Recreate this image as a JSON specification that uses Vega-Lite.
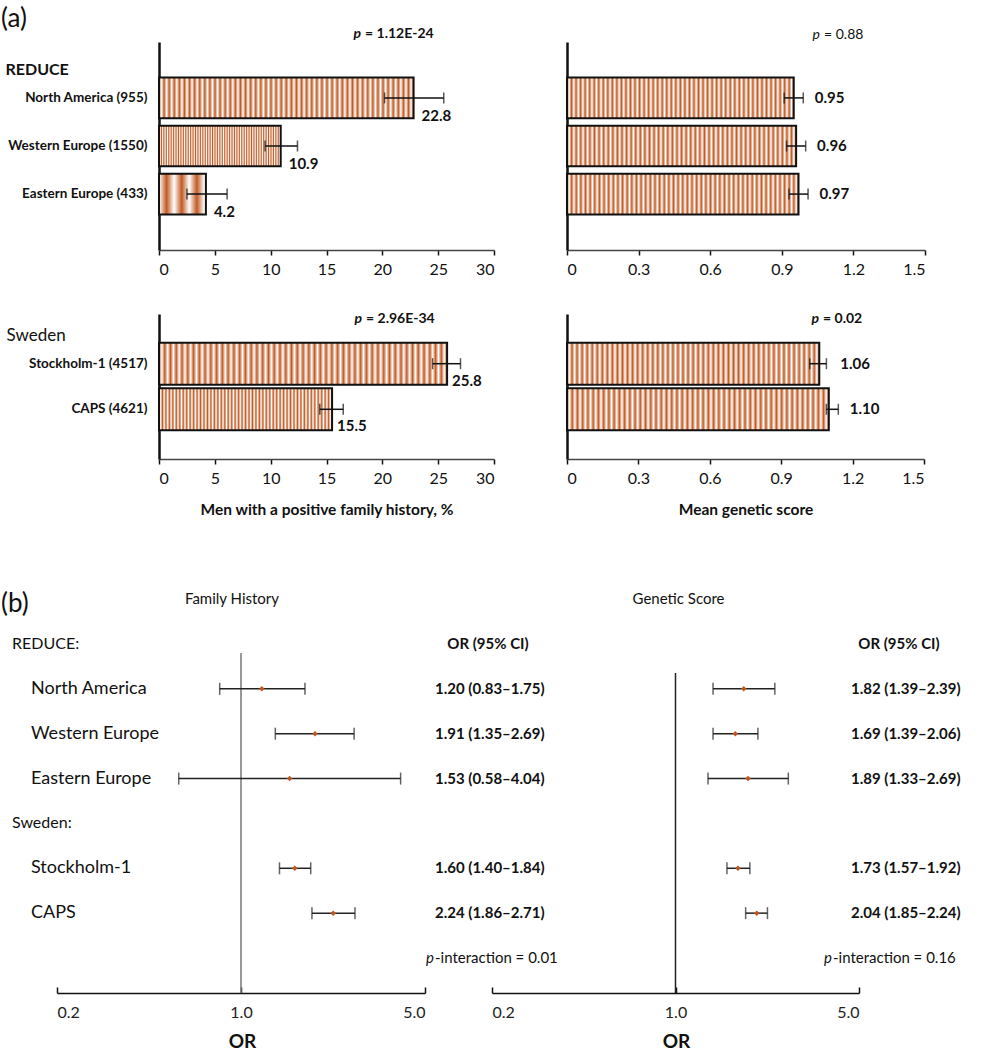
{
  "$schema": "https://vega.github.io/schema/vega-lite/v6.json",
  "background": "white",
  "padding": {"left": 1, "top": 5, "right": 0, "bottom": 0},
  "config": {
    "font": "Lato",
    "view": {"stroke": null},
    "axis": {"grid": false, "domainColor": "#111", "tickColor": "#111", "labelColor": "#111", "titleColor": "#111"},
    "text": {"color": "#111"}
  },
  "datasets": {
    "bars": [
      {"cohort": "REDUCE", "region": "North America (955)", "fh": 22.8, "fh_lo": 20.2, "fh_hi": 25.5, "gs": 0.95, "gs_lo": 0.91, "gs_hi": 0.99, "p_fh": "= 1.12E-24", "p_gs": "= 0.88"},
      {"cohort": "REDUCE", "region": "Western Europe (1550)", "fh": 10.9, "fh_lo": 9.5, "fh_hi": 12.4, "gs": 0.96, "gs_lo": 0.92, "gs_hi": 1.0},
      {"cohort": "REDUCE", "region": "Eastern Europe (433)", "fh": 4.2, "fh_lo": 2.5, "fh_hi": 6.1, "gs": 0.97, "gs_lo": 0.93, "gs_hi": 1.01},
      {"cohort": "Sweden", "region": "Stockholm-1 (4517)", "fh": 25.8, "fh_lo": 24.5, "fh_hi": 27.0, "gs": 1.06, "gs_lo": 1.02, "gs_hi": 1.09, "p_fh": "= 2.96E-34", "p_gs": "= 0.02"},
      {"cohort": "Sweden", "region": "CAPS (4621)", "fh": 15.5, "fh_lo": 14.4, "fh_hi": 16.5, "gs": 1.10, "gs_lo": 1.09, "gs_hi": 1.14}
    ],
    "forest": [
      {"trait": "FH", "row": "North America", "or": 1.20, "lo": 0.83, "hi": 1.75, "ci": "1.20 (0.83–1.75)"},
      {"trait": "FH", "row": "Western Europe", "or": 1.91, "lo": 1.35, "hi": 2.69, "ci": "1.91 (1.35–2.69)"},
      {"trait": "FH", "row": "Eastern Europe", "or": 1.53, "lo": 0.58, "hi": 4.04, "ci": "1.53 (0.58–4.04)"},
      {"trait": "FH", "row": "Stockholm-1", "or": 1.60, "lo": 1.40, "hi": 1.84, "ci": "1.60 (1.40–1.84)"},
      {"trait": "FH", "row": "CAPS", "or": 2.24, "lo": 1.86, "hi": 2.71, "ci": "2.24 (1.86–2.71)"},
      {"trait": "GS", "row": "North America", "or": 1.82, "lo": 1.39, "hi": 2.39, "ci": "1.82 (1.39–2.39)"},
      {"trait": "GS", "row": "Western Europe", "or": 1.69, "lo": 1.39, "hi": 2.06, "ci": "1.69 (1.39–2.06)"},
      {"trait": "GS", "row": "Eastern Europe", "or": 1.89, "lo": 1.33, "hi": 2.69, "ci": "1.89 (1.33–2.69)"},
      {"trait": "GS", "row": "Stockholm-1", "or": 1.73, "lo": 1.57, "hi": 1.92, "ci": "1.73 (1.57–1.92)"},
      {"trait": "GS", "row": "CAPS", "or": 2.04, "lo": 1.85, "hi": 2.24, "ci": "2.04 (1.85–2.24)"}
    ],
    "rowlabels": [
      {"row": "hdr", "label": "REDUCE:", "kind": "group"},
      {"row": "North America", "label": "North America", "kind": "study"},
      {"row": "Western Europe", "label": "Western Europe", "kind": "study"},
      {"row": "Eastern Europe", "label": "Eastern Europe", "kind": "study"},
      {"row": "Sweden", "label": "Sweden:", "kind": "group"},
      {"row": "Stockholm-1", "label": "Stockholm-1", "kind": "study"},
      {"row": "CAPS", "label": "CAPS", "kind": "study"}
    ],
    "pint": [
      {"trait": "FH", "text": "-interaction = 0.01"},
      {"trait": "GS", "text": "-interaction = 0.16"}
    ]
  },
  "columns": 2,
  "align": "none",
  "bounds": "flush",
  "spacing": {"row": 64, "column": 73},
  "concat": [
    {
      "width": 335, "height": 208,
      "data": {"name": "bars"},
      "transform": [{"filter": "datum.cohort === 'REDUCE'"}],
      "encoding": {"y": {"field": "region", "type": "nominal", "scale": {"domain": ["North America (955)", "Western Europe (1550)", "Eastern Europe (433)"], "paddingInner": 0.155, "paddingOuter": 0.74},
        "axis": {"title": "REDUCE", "titleAngle": 0, "titleAlign": "left", "titleBaseline": "middle", "titleX": -154, "titleY": 27, "titleFontSize": 16, "titleFontWeight": "bold", "labelFontSize": 13.5, "labelFontWeight": "bold", "labelPadding": 12, "labelLimit": 145, "ticks": false, "domainWidth": 2.5}}},
      "layer": [
        {"mark": {"type": "bar", "stroke": "#111", "strokeWidth": 2, "fill": {"gradient": "linear", "x1": 0, "x2": 1, "y1": 0, "y2": 0, "stops": [{"offset":0,"color":"#c25a22"},{"offset":0.01,"color":"#fff"},{"offset":0.02,"color":"#c25a22"},{"offset":0.03,"color":"#fff"},{"offset":0.04,"color":"#c25a22"},{"offset":0.05,"color":"#fff"},{"offset":0.06,"color":"#c25a22"},{"offset":0.07,"color":"#fff"},{"offset":0.08,"color":"#c25a22"},{"offset":0.09,"color":"#fff"},{"offset":0.1,"color":"#c25a22"},{"offset":0.11,"color":"#fff"},{"offset":0.12,"color":"#c25a22"},{"offset":0.13,"color":"#fff"},{"offset":0.14,"color":"#c25a22"},{"offset":0.15,"color":"#fff"},{"offset":0.16,"color":"#c25a22"},{"offset":0.17,"color":"#fff"},{"offset":0.18,"color":"#c25a22"},{"offset":0.19,"color":"#fff"},{"offset":0.2,"color":"#c25a22"},{"offset":0.21,"color":"#fff"},{"offset":0.22,"color":"#c25a22"},{"offset":0.23,"color":"#fff"},{"offset":0.24,"color":"#c25a22"},{"offset":0.25,"color":"#fff"},{"offset":0.26,"color":"#c25a22"},{"offset":0.27,"color":"#fff"},{"offset":0.28,"color":"#c25a22"},{"offset":0.29,"color":"#fff"},{"offset":0.3,"color":"#c25a22"},{"offset":0.31,"color":"#fff"},{"offset":0.32,"color":"#c25a22"},{"offset":0.33,"color":"#fff"},{"offset":0.34,"color":"#c25a22"},{"offset":0.35,"color":"#fff"},{"offset":0.36,"color":"#c25a22"},{"offset":0.37,"color":"#fff"},{"offset":0.38,"color":"#c25a22"},{"offset":0.39,"color":"#fff"},{"offset":0.4,"color":"#c25a22"},{"offset":0.41,"color":"#fff"},{"offset":0.42,"color":"#c25a22"},{"offset":0.43,"color":"#fff"},{"offset":0.44,"color":"#c25a22"},{"offset":0.45,"color":"#fff"},{"offset":0.46,"color":"#c25a22"},{"offset":0.47,"color":"#fff"},{"offset":0.48,"color":"#c25a22"},{"offset":0.49,"color":"#fff"},{"offset":0.5,"color":"#c25a22"},{"offset":0.51,"color":"#fff"},{"offset":0.52,"color":"#c25a22"},{"offset":0.53,"color":"#fff"},{"offset":0.54,"color":"#c25a22"},{"offset":0.55,"color":"#fff"},{"offset":0.56,"color":"#c25a22"},{"offset":0.57,"color":"#fff"},{"offset":0.58,"color":"#c25a22"},{"offset":0.59,"color":"#fff"},{"offset":0.6,"color":"#c25a22"},{"offset":0.61,"color":"#fff"},{"offset":0.62,"color":"#c25a22"},{"offset":0.63,"color":"#fff"},{"offset":0.64,"color":"#c25a22"},{"offset":0.65,"color":"#fff"},{"offset":0.66,"color":"#c25a22"},{"offset":0.67,"color":"#fff"},{"offset":0.68,"color":"#c25a22"},{"offset":0.69,"color":"#fff"},{"offset":0.7,"color":"#c25a22"},{"offset":0.71,"color":"#fff"},{"offset":0.72,"color":"#c25a22"},{"offset":0.73,"color":"#fff"},{"offset":0.74,"color":"#c25a22"},{"offset":0.75,"color":"#fff"},{"offset":0.76,"color":"#c25a22"},{"offset":0.77,"color":"#fff"},{"offset":0.78,"color":"#c25a22"},{"offset":0.79,"color":"#fff"},{"offset":0.8,"color":"#c25a22"},{"offset":0.81,"color":"#fff"},{"offset":0.82,"color":"#c25a22"},{"offset":0.83,"color":"#fff"},{"offset":0.84,"color":"#c25a22"},{"offset":0.85,"color":"#fff"},{"offset":0.86,"color":"#c25a22"},{"offset":0.87,"color":"#fff"},{"offset":0.88,"color":"#c25a22"},{"offset":0.89,"color":"#fff"},{"offset":0.9,"color":"#c25a22"},{"offset":0.91,"color":"#fff"},{"offset":0.92,"color":"#c25a22"},{"offset":0.93,"color":"#fff"},{"offset":0.94,"color":"#c25a22"},{"offset":0.95,"color":"#fff"},{"offset":0.96,"color":"#c25a22"},{"offset":0.97,"color":"#fff"},{"offset":0.98,"color":"#c25a22"},{"offset":0.99,"color":"#fff"},{"offset":1,"color":"#c25a22"}]}},
         "encoding": {"x": {"field": "fh", "type": "quantitative", "scale": {"domain": [0, 30], "nice": false}, "axis": {"values": [0, 5, 10, 15, 20, 25, 30], "title": null, "labelFontSize": 16, "tickSize": 5, "labelPadding": 6, "domainWidth": 1.5, "tickWidth": 1.5, "domainColor": "#444"}}}},
        {"mark": {"type": "rule", "color": "#111", "strokeWidth": 1.5}, "encoding": {"x": {"field": "fh_lo", "type": "quantitative"}, "x2": {"field": "fh_hi"}}},
        {"mark": {"type": "tick", "orient": "vertical", "size": 11, "thickness": 1.5, "color": "#111"}, "encoding": {"x": {"field": "fh_lo", "type": "quantitative"}}},
        {"mark": {"type": "tick", "orient": "vertical", "size": 11, "thickness": 1.5, "color": "#111"}, "encoding": {"x": {"field": "fh_hi", "type": "quantitative"}}},
        {"mark": {"type": "text", "align": "left", "baseline": "middle", "dx": 8, "dy": 18, "fontSize": 15, "fontWeight": "bold"}, "encoding": {"x": {"field": "fh", "type": "quantitative"}, "text": {"field": "fh", "type": "quantitative", "format": ".1f"}}},
        {"transform": [{"filter": "isValid(datum.p_fh)"}], "mark": {"type": "text", "align": "left", "baseline": "middle", "dx": -129, "dy": -64, "fontSize": 14, "fontWeight": "bold"}, "encoding": {"x": {"datum": 30, "type": "quantitative"}, "text": {"field": "p_fh"}}},
        {"transform": [{"filter": "isValid(datum.p_fh)"}], "mark": {"type": "text", "text": "p", "align": "right", "baseline": "middle", "dx": -133, "dy": -64, "fontSize": 14, "fontStyle": "italic", "fontWeight": "bold"}, "encoding": {"x": {"datum": 30, "type": "quantitative"}}},
        {"transform": [{"filter": "isValid(datum.p_fh)"}], "mark": {"type": "text", "text": "(a)", "align": "left", "baseline": "middle", "dx": -158, "dy": -79, "fontSize": 26}, "encoding": {"x": {"datum": 0, "type": "quantitative"}}}
      ]
    },
    {
      "width": 358, "height": 208,
      "data": {"name": "bars"},
      "transform": [{"filter": "datum.cohort === 'REDUCE'"}],
      "encoding": {"y": {"field": "region", "type": "nominal", "scale": {"domain": ["North America (955)", "Western Europe (1550)", "Eastern Europe (433)"], "paddingInner": 0.155, "paddingOuter": 0.74},
        "axis": {"title": null, "labels": false, "ticks": false, "domainWidth": 2.5}}},
      "layer": [
        {"mark": {"type": "bar", "stroke": "#111", "strokeWidth": 2, "fill": {"gradient": "linear", "x1": 0, "x2": 1, "y1": 0, "y2": 0, "stops": [{"offset":0,"color":"#c25a22"},{"offset":0.01,"color":"#fff"},{"offset":0.02,"color":"#c25a22"},{"offset":0.03,"color":"#fff"},{"offset":0.04,"color":"#c25a22"},{"offset":0.05,"color":"#fff"},{"offset":0.06,"color":"#c25a22"},{"offset":0.07,"color":"#fff"},{"offset":0.08,"color":"#c25a22"},{"offset":0.09,"color":"#fff"},{"offset":0.1,"color":"#c25a22"},{"offset":0.11,"color":"#fff"},{"offset":0.12,"color":"#c25a22"},{"offset":0.13,"color":"#fff"},{"offset":0.14,"color":"#c25a22"},{"offset":0.15,"color":"#fff"},{"offset":0.16,"color":"#c25a22"},{"offset":0.17,"color":"#fff"},{"offset":0.18,"color":"#c25a22"},{"offset":0.19,"color":"#fff"},{"offset":0.2,"color":"#c25a22"},{"offset":0.21,"color":"#fff"},{"offset":0.22,"color":"#c25a22"},{"offset":0.23,"color":"#fff"},{"offset":0.24,"color":"#c25a22"},{"offset":0.25,"color":"#fff"},{"offset":0.26,"color":"#c25a22"},{"offset":0.27,"color":"#fff"},{"offset":0.28,"color":"#c25a22"},{"offset":0.29,"color":"#fff"},{"offset":0.3,"color":"#c25a22"},{"offset":0.31,"color":"#fff"},{"offset":0.32,"color":"#c25a22"},{"offset":0.33,"color":"#fff"},{"offset":0.34,"color":"#c25a22"},{"offset":0.35,"color":"#fff"},{"offset":0.36,"color":"#c25a22"},{"offset":0.37,"color":"#fff"},{"offset":0.38,"color":"#c25a22"},{"offset":0.39,"color":"#fff"},{"offset":0.4,"color":"#c25a22"},{"offset":0.41,"color":"#fff"},{"offset":0.42,"color":"#c25a22"},{"offset":0.43,"color":"#fff"},{"offset":0.44,"color":"#c25a22"},{"offset":0.45,"color":"#fff"},{"offset":0.46,"color":"#c25a22"},{"offset":0.47,"color":"#fff"},{"offset":0.48,"color":"#c25a22"},{"offset":0.49,"color":"#fff"},{"offset":0.5,"color":"#c25a22"},{"offset":0.51,"color":"#fff"},{"offset":0.52,"color":"#c25a22"},{"offset":0.53,"color":"#fff"},{"offset":0.54,"color":"#c25a22"},{"offset":0.55,"color":"#fff"},{"offset":0.56,"color":"#c25a22"},{"offset":0.57,"color":"#fff"},{"offset":0.58,"color":"#c25a22"},{"offset":0.59,"color":"#fff"},{"offset":0.6,"color":"#c25a22"},{"offset":0.61,"color":"#fff"},{"offset":0.62,"color":"#c25a22"},{"offset":0.63,"color":"#fff"},{"offset":0.64,"color":"#c25a22"},{"offset":0.65,"color":"#fff"},{"offset":0.66,"color":"#c25a22"},{"offset":0.67,"color":"#fff"},{"offset":0.68,"color":"#c25a22"},{"offset":0.69,"color":"#fff"},{"offset":0.7,"color":"#c25a22"},{"offset":0.71,"color":"#fff"},{"offset":0.72,"color":"#c25a22"},{"offset":0.73,"color":"#fff"},{"offset":0.74,"color":"#c25a22"},{"offset":0.75,"color":"#fff"},{"offset":0.76,"color":"#c25a22"},{"offset":0.77,"color":"#fff"},{"offset":0.78,"color":"#c25a22"},{"offset":0.79,"color":"#fff"},{"offset":0.8,"color":"#c25a22"},{"offset":0.81,"color":"#fff"},{"offset":0.82,"color":"#c25a22"},{"offset":0.83,"color":"#fff"},{"offset":0.84,"color":"#c25a22"},{"offset":0.85,"color":"#fff"},{"offset":0.86,"color":"#c25a22"},{"offset":0.87,"color":"#fff"},{"offset":0.88,"color":"#c25a22"},{"offset":0.89,"color":"#fff"},{"offset":0.9,"color":"#c25a22"},{"offset":0.91,"color":"#fff"},{"offset":0.92,"color":"#c25a22"},{"offset":0.93,"color":"#fff"},{"offset":0.94,"color":"#c25a22"},{"offset":0.95,"color":"#fff"},{"offset":0.96,"color":"#c25a22"},{"offset":0.97,"color":"#fff"},{"offset":0.98,"color":"#c25a22"},{"offset":0.99,"color":"#fff"},{"offset":1,"color":"#c25a22"}]}},
         "encoding": {"x": {"field": "gs", "type": "quantitative", "scale": {"domain": [0, 1.5], "nice": false}, "axis": {"values": [0, 0.3, 0.6, 0.9, 1.2, 1.5], "labelExpr": "datum.value === 0 ? '0' : format(datum.value, '.1f')", "title": null, "labelFontSize": 16, "tickSize": 5, "labelPadding": 6, "domainWidth": 1.5, "tickWidth": 1.5, "domainColor": "#444"}}}},
        {"mark": {"type": "rule", "color": "#111", "strokeWidth": 1.5}, "encoding": {"x": {"field": "gs_lo", "type": "quantitative"}, "x2": {"field": "gs_hi"}}},
        {"mark": {"type": "tick", "orient": "vertical", "size": 11, "thickness": 1.5, "color": "#111"}, "encoding": {"x": {"field": "gs_lo", "type": "quantitative"}}},
        {"mark": {"type": "tick", "orient": "vertical", "size": 11, "thickness": 1.5, "color": "#111"}, "encoding": {"x": {"field": "gs_hi", "type": "quantitative"}}},
        {"mark": {"type": "text", "align": "left", "baseline": "middle", "dx": 21, "fontSize": 15, "fontWeight": "bold"}, "encoding": {"x": {"field": "gs", "type": "quantitative"}, "text": {"field": "gs", "type": "quantitative", "format": ".2f"}}},
        {"transform": [{"filter": "isValid(datum.p_gs)"}], "mark": {"type": "text", "align": "left", "baseline": "middle", "dx": -101, "dy": -63, "fontSize": 14}, "encoding": {"x": {"datum": 1.5, "type": "quantitative"}, "text": {"field": "p_gs"}}},
        {"transform": [{"filter": "isValid(datum.p_gs)"}], "mark": {"type": "text", "text": "p", "align": "right", "baseline": "middle", "dx": -105, "dy": -63, "fontSize": 14, "fontStyle": "italic"}, "encoding": {"x": {"datum": 1.5, "type": "quantitative"}}}
      ]
    },
    {
      "width": 335, "height": 145,
      "data": {"name": "bars"},
      "transform": [{"filter": "datum.cohort === 'Sweden'"}],
      "encoding": {"y": {"field": "region", "type": "nominal", "scale": {"domain": ["Stockholm-1 (4517)", "CAPS (4621)"], "paddingInner": 0.08, "paddingOuter": 0.63},
        "axis": {"title": "Sweden", "titleAngle": 0, "titleAlign": "left", "titleBaseline": "middle", "titleX": -153, "titleY": 21, "titleFontSize": 17, "titleFontWeight": "normal", "labelFontSize": 13.5, "labelFontWeight": "bold", "labelPadding": 12, "labelLimit": 145, "ticks": false, "domainWidth": 2.5}}},
      "layer": [
        {"mark": {"type": "bar", "stroke": "#111", "strokeWidth": 2, "fill": {"gradient": "linear", "x1": 0, "x2": 1, "y1": 0, "y2": 0, "stops": [{"offset":0,"color":"#c25a22"},{"offset":0.01,"color":"#fff"},{"offset":0.02,"color":"#c25a22"},{"offset":0.03,"color":"#fff"},{"offset":0.04,"color":"#c25a22"},{"offset":0.05,"color":"#fff"},{"offset":0.06,"color":"#c25a22"},{"offset":0.07,"color":"#fff"},{"offset":0.08,"color":"#c25a22"},{"offset":0.09,"color":"#fff"},{"offset":0.1,"color":"#c25a22"},{"offset":0.11,"color":"#fff"},{"offset":0.12,"color":"#c25a22"},{"offset":0.13,"color":"#fff"},{"offset":0.14,"color":"#c25a22"},{"offset":0.15,"color":"#fff"},{"offset":0.16,"color":"#c25a22"},{"offset":0.17,"color":"#fff"},{"offset":0.18,"color":"#c25a22"},{"offset":0.19,"color":"#fff"},{"offset":0.2,"color":"#c25a22"},{"offset":0.21,"color":"#fff"},{"offset":0.22,"color":"#c25a22"},{"offset":0.23,"color":"#fff"},{"offset":0.24,"color":"#c25a22"},{"offset":0.25,"color":"#fff"},{"offset":0.26,"color":"#c25a22"},{"offset":0.27,"color":"#fff"},{"offset":0.28,"color":"#c25a22"},{"offset":0.29,"color":"#fff"},{"offset":0.3,"color":"#c25a22"},{"offset":0.31,"color":"#fff"},{"offset":0.32,"color":"#c25a22"},{"offset":0.33,"color":"#fff"},{"offset":0.34,"color":"#c25a22"},{"offset":0.35,"color":"#fff"},{"offset":0.36,"color":"#c25a22"},{"offset":0.37,"color":"#fff"},{"offset":0.38,"color":"#c25a22"},{"offset":0.39,"color":"#fff"},{"offset":0.4,"color":"#c25a22"},{"offset":0.41,"color":"#fff"},{"offset":0.42,"color":"#c25a22"},{"offset":0.43,"color":"#fff"},{"offset":0.44,"color":"#c25a22"},{"offset":0.45,"color":"#fff"},{"offset":0.46,"color":"#c25a22"},{"offset":0.47,"color":"#fff"},{"offset":0.48,"color":"#c25a22"},{"offset":0.49,"color":"#fff"},{"offset":0.5,"color":"#c25a22"},{"offset":0.51,"color":"#fff"},{"offset":0.52,"color":"#c25a22"},{"offset":0.53,"color":"#fff"},{"offset":0.54,"color":"#c25a22"},{"offset":0.55,"color":"#fff"},{"offset":0.56,"color":"#c25a22"},{"offset":0.57,"color":"#fff"},{"offset":0.58,"color":"#c25a22"},{"offset":0.59,"color":"#fff"},{"offset":0.6,"color":"#c25a22"},{"offset":0.61,"color":"#fff"},{"offset":0.62,"color":"#c25a22"},{"offset":0.63,"color":"#fff"},{"offset":0.64,"color":"#c25a22"},{"offset":0.65,"color":"#fff"},{"offset":0.66,"color":"#c25a22"},{"offset":0.67,"color":"#fff"},{"offset":0.68,"color":"#c25a22"},{"offset":0.69,"color":"#fff"},{"offset":0.7,"color":"#c25a22"},{"offset":0.71,"color":"#fff"},{"offset":0.72,"color":"#c25a22"},{"offset":0.73,"color":"#fff"},{"offset":0.74,"color":"#c25a22"},{"offset":0.75,"color":"#fff"},{"offset":0.76,"color":"#c25a22"},{"offset":0.77,"color":"#fff"},{"offset":0.78,"color":"#c25a22"},{"offset":0.79,"color":"#fff"},{"offset":0.8,"color":"#c25a22"},{"offset":0.81,"color":"#fff"},{"offset":0.82,"color":"#c25a22"},{"offset":0.83,"color":"#fff"},{"offset":0.84,"color":"#c25a22"},{"offset":0.85,"color":"#fff"},{"offset":0.86,"color":"#c25a22"},{"offset":0.87,"color":"#fff"},{"offset":0.88,"color":"#c25a22"},{"offset":0.89,"color":"#fff"},{"offset":0.9,"color":"#c25a22"},{"offset":0.91,"color":"#fff"},{"offset":0.92,"color":"#c25a22"},{"offset":0.93,"color":"#fff"},{"offset":0.94,"color":"#c25a22"},{"offset":0.95,"color":"#fff"},{"offset":0.96,"color":"#c25a22"},{"offset":0.97,"color":"#fff"},{"offset":0.98,"color":"#c25a22"},{"offset":0.99,"color":"#fff"},{"offset":1,"color":"#c25a22"}]}},
         "encoding": {"x": {"field": "fh", "type": "quantitative", "scale": {"domain": [0, 30], "nice": false}, "axis": {"values": [0, 5, 10, 15, 20, 25, 30], "title": "Men with a positive family history, %", "titleFontSize": 15.5, "titleFontWeight": "bold", "titlePadding": 16, "labelFontSize": 16, "tickSize": 5, "labelPadding": 6, "domainWidth": 1.5, "tickWidth": 1.5, "domainColor": "#444"}}}},
        {"mark": {"type": "rule", "color": "#111", "strokeWidth": 1.5}, "encoding": {"x": {"field": "fh_lo", "type": "quantitative"}, "x2": {"field": "fh_hi"}}},
        {"mark": {"type": "tick", "orient": "vertical", "size": 11, "thickness": 1.5, "color": "#111"}, "encoding": {"x": {"field": "fh_lo", "type": "quantitative"}}},
        {"mark": {"type": "tick", "orient": "vertical", "size": 11, "thickness": 1.5, "color": "#111"}, "encoding": {"x": {"field": "fh_hi", "type": "quantitative"}}},
        {"mark": {"type": "text", "align": "left", "baseline": "middle", "dx": 5, "dy": 17, "fontSize": 15, "fontWeight": "bold"}, "encoding": {"x": {"field": "fh", "type": "quantitative"}, "text": {"field": "fh", "type": "quantitative", "format": ".1f"}}},
        {"transform": [{"filter": "isValid(datum.p_fh)"}], "mark": {"type": "text", "align": "left", "baseline": "middle", "dx": -128, "dy": -45, "fontSize": 14, "fontWeight": "bold"}, "encoding": {"x": {"datum": 30, "type": "quantitative"}, "text": {"field": "p_fh"}}},
        {"transform": [{"filter": "isValid(datum.p_fh)"}], "mark": {"type": "text", "text": "p", "align": "right", "baseline": "middle", "dx": -132, "dy": -45, "fontSize": 14, "fontStyle": "italic", "fontWeight": "bold"}, "encoding": {"x": {"datum": 30, "type": "quantitative"}}}
      ]
    },
    {
      "width": 357, "height": 145,
      "data": {"name": "bars"},
      "transform": [{"filter": "datum.cohort === 'Sweden'"}],
      "encoding": {"y": {"field": "region", "type": "nominal", "scale": {"domain": ["Stockholm-1 (4517)", "CAPS (4621)"], "paddingInner": 0.08, "paddingOuter": 0.63},
        "axis": {"title": null, "labels": false, "ticks": false, "domainWidth": 2.5}}},
      "layer": [
        {"mark": {"type": "bar", "stroke": "#111", "strokeWidth": 2, "fill": {"gradient": "linear", "x1": 0, "x2": 1, "y1": 0, "y2": 0, "stops": [{"offset":0,"color":"#c25a22"},{"offset":0.01,"color":"#fff"},{"offset":0.02,"color":"#c25a22"},{"offset":0.03,"color":"#fff"},{"offset":0.04,"color":"#c25a22"},{"offset":0.05,"color":"#fff"},{"offset":0.06,"color":"#c25a22"},{"offset":0.07,"color":"#fff"},{"offset":0.08,"color":"#c25a22"},{"offset":0.09,"color":"#fff"},{"offset":0.1,"color":"#c25a22"},{"offset":0.11,"color":"#fff"},{"offset":0.12,"color":"#c25a22"},{"offset":0.13,"color":"#fff"},{"offset":0.14,"color":"#c25a22"},{"offset":0.15,"color":"#fff"},{"offset":0.16,"color":"#c25a22"},{"offset":0.17,"color":"#fff"},{"offset":0.18,"color":"#c25a22"},{"offset":0.19,"color":"#fff"},{"offset":0.2,"color":"#c25a22"},{"offset":0.21,"color":"#fff"},{"offset":0.22,"color":"#c25a22"},{"offset":0.23,"color":"#fff"},{"offset":0.24,"color":"#c25a22"},{"offset":0.25,"color":"#fff"},{"offset":0.26,"color":"#c25a22"},{"offset":0.27,"color":"#fff"},{"offset":0.28,"color":"#c25a22"},{"offset":0.29,"color":"#fff"},{"offset":0.3,"color":"#c25a22"},{"offset":0.31,"color":"#fff"},{"offset":0.32,"color":"#c25a22"},{"offset":0.33,"color":"#fff"},{"offset":0.34,"color":"#c25a22"},{"offset":0.35,"color":"#fff"},{"offset":0.36,"color":"#c25a22"},{"offset":0.37,"color":"#fff"},{"offset":0.38,"color":"#c25a22"},{"offset":0.39,"color":"#fff"},{"offset":0.4,"color":"#c25a22"},{"offset":0.41,"color":"#fff"},{"offset":0.42,"color":"#c25a22"},{"offset":0.43,"color":"#fff"},{"offset":0.44,"color":"#c25a22"},{"offset":0.45,"color":"#fff"},{"offset":0.46,"color":"#c25a22"},{"offset":0.47,"color":"#fff"},{"offset":0.48,"color":"#c25a22"},{"offset":0.49,"color":"#fff"},{"offset":0.5,"color":"#c25a22"},{"offset":0.51,"color":"#fff"},{"offset":0.52,"color":"#c25a22"},{"offset":0.53,"color":"#fff"},{"offset":0.54,"color":"#c25a22"},{"offset":0.55,"color":"#fff"},{"offset":0.56,"color":"#c25a22"},{"offset":0.57,"color":"#fff"},{"offset":0.58,"color":"#c25a22"},{"offset":0.59,"color":"#fff"},{"offset":0.6,"color":"#c25a22"},{"offset":0.61,"color":"#fff"},{"offset":0.62,"color":"#c25a22"},{"offset":0.63,"color":"#fff"},{"offset":0.64,"color":"#c25a22"},{"offset":0.65,"color":"#fff"},{"offset":0.66,"color":"#c25a22"},{"offset":0.67,"color":"#fff"},{"offset":0.68,"color":"#c25a22"},{"offset":0.69,"color":"#fff"},{"offset":0.7,"color":"#c25a22"},{"offset":0.71,"color":"#fff"},{"offset":0.72,"color":"#c25a22"},{"offset":0.73,"color":"#fff"},{"offset":0.74,"color":"#c25a22"},{"offset":0.75,"color":"#fff"},{"offset":0.76,"color":"#c25a22"},{"offset":0.77,"color":"#fff"},{"offset":0.78,"color":"#c25a22"},{"offset":0.79,"color":"#fff"},{"offset":0.8,"color":"#c25a22"},{"offset":0.81,"color":"#fff"},{"offset":0.82,"color":"#c25a22"},{"offset":0.83,"color":"#fff"},{"offset":0.84,"color":"#c25a22"},{"offset":0.85,"color":"#fff"},{"offset":0.86,"color":"#c25a22"},{"offset":0.87,"color":"#fff"},{"offset":0.88,"color":"#c25a22"},{"offset":0.89,"color":"#fff"},{"offset":0.9,"color":"#c25a22"},{"offset":0.91,"color":"#fff"},{"offset":0.92,"color":"#c25a22"},{"offset":0.93,"color":"#fff"},{"offset":0.94,"color":"#c25a22"},{"offset":0.95,"color":"#fff"},{"offset":0.96,"color":"#c25a22"},{"offset":0.97,"color":"#fff"},{"offset":0.98,"color":"#c25a22"},{"offset":0.99,"color":"#fff"},{"offset":1,"color":"#c25a22"}]}},
         "encoding": {"x": {"field": "gs", "type": "quantitative", "scale": {"domain": [0, 1.5], "nice": false}, "axis": {"values": [0, 0.3, 0.6, 0.9, 1.2, 1.5], "labelExpr": "datum.value === 0 ? '0' : format(datum.value, '.1f')", "title": "Mean genetic score", "titleFontSize": 15.5, "titleFontWeight": "bold", "titlePadding": 16, "labelFontSize": 16, "tickSize": 5, "labelPadding": 6, "domainWidth": 1.5, "tickWidth": 1.5, "domainColor": "#444"}}}},
        {"mark": {"type": "rule", "color": "#111", "strokeWidth": 1.5}, "encoding": {"x": {"field": "gs_lo", "type": "quantitative"}, "x2": {"field": "gs_hi"}}},
        {"mark": {"type": "tick", "orient": "vertical", "size": 11, "thickness": 1.5, "color": "#111"}, "encoding": {"x": {"field": "gs_lo", "type": "quantitative"}}},
        {"mark": {"type": "tick", "orient": "vertical", "size": 11, "thickness": 1.5, "color": "#111"}, "encoding": {"x": {"field": "gs_hi", "type": "quantitative"}}},
        {"mark": {"type": "text", "align": "left", "baseline": "middle", "dx": 21, "fontSize": 15, "fontWeight": "bold"}, "encoding": {"x": {"field": "gs", "type": "quantitative"}, "text": {"field": "gs", "type": "quantitative", "format": ".2f"}}},
        {"transform": [{"filter": "isValid(datum.p_gs)"}], "mark": {"type": "text", "align": "left", "baseline": "middle", "dx": -101, "dy": -45, "fontSize": 14, "fontWeight": "bold"}, "encoding": {"x": {"datum": 1.5, "type": "quantitative"}, "text": {"field": "p_gs"}}},
        {"transform": [{"filter": "isValid(datum.p_gs)"}], "mark": {"type": "text", "text": "p", "align": "right", "baseline": "middle", "dx": -105, "dy": -45, "fontSize": 14, "fontStyle": "italic", "fontWeight": "bold"}, "encoding": {"x": {"datum": 1.5, "type": "quantitative"}}}
      ]
    },
    {
      "width": 335, "height": 470,
      "layer": [
        {"data": {"values": [{}]}, "mark": {"type": "text", "text": "Family History", "align": "center", "baseline": "middle", "dx": -9, "fontSize": 15}, "encoding": {"x": {"datum": 1, "type": "quantitative"}, "y": {"datum": "title", "type": "nominal", "axis": null}}},
        {"data": {"values": [{}]}, "mark": {"type": "rule", "color": "#777", "strokeWidth": 1.5, "yOffset": 9, "y2Offset": 35}, "encoding": {"x": {"datum": 1, "type": "quantitative"}, "y": {"datum": "hdr", "type": "nominal", "axis": null}, "y2": {"datum": "pint"}}},
        {
          "data": {"name": "forest"},
          "transform": [{"filter": "datum.trait === 'FH'"}],
          "encoding": {"y": {"field": "row", "type": "nominal", "scale": {"type": "point", "domain": ["t0", "title", "hdr", "North America", "Western Europe", "Eastern Europe", "Sweden", "Stockholm-1", "CAPS", "pint"], "padding": 0.739, "align": 0.472}, "axis": null}},
          "layer": [
            {"mark": {"type": "rule", "color": "#222", "strokeWidth": 1.5}, "encoding": {"x": {"field": "lo", "type": "quantitative", "scale": {"type": "log", "domain": [0.2, 5], "range": [-102, 266], "nice": false}, "axis": {"values": [0.2, 1, 5], "format": ".1f", "title": "OR", "titleFontSize": 19, "titleFontWeight": "bold", "titlePadding": 12, "titleX": 83, "labelFontSize": 16, "labelColor": "#222", "tickSize": -6, "labelPadding": 17, "domainWidth": 1.5, "tickWidth": 1.5}}, "x2": {"field": "hi"}}},
            {"mark": {"type": "tick", "orient": "vertical", "size": 12, "thickness": 1.5, "color": "#222"}, "encoding": {"x": {"field": "lo", "type": "quantitative"}}},
            {"mark": {"type": "tick", "orient": "vertical", "size": 12, "thickness": 1.5, "color": "#222"}, "encoding": {"x": {"field": "hi", "type": "quantitative"}}},
            {"mark": {"type": "point", "shape": "diamond", "filled": true, "size": 30, "color": "#c0561f", "opacity": 1}, "encoding": {"x": {"field": "or", "type": "quantitative"}}},
            {"mark": {"type": "text", "align": "left", "baseline": "middle", "dx": 10, "fontSize": 15, "fontWeight": "bold"}, "encoding": {"x": {"datum": 5, "type": "quantitative"}, "text": {"field": "ci"}}}
          ]
        },
        {"data": {"name": "rowlabels"}, "transform": [{"filter": "datum.kind === 'study'"}], "mark": {"type": "text", "align": "left", "baseline": "middle", "dx": -26, "fontSize": 18}, "encoding": {"x": {"datum": 0.2, "type": "quantitative"}, "y": {"field": "row", "type": "nominal", "axis": null}, "text": {"field": "label"}}},
        {"data": {"name": "rowlabels"}, "transform": [{"filter": "datum.kind === 'group'"}], "mark": {"type": "text", "align": "left", "baseline": "middle", "dx": -45, "fontSize": 16}, "encoding": {"x": {"datum": 0.2, "type": "quantitative"}, "y": {"field": "row", "type": "nominal", "axis": null}, "text": {"field": "label"}}},
        {"data": {"values": [{}]}, "mark": {"type": "text", "text": "OR (95% CI)", "align": "center", "baseline": "middle", "dx": 63, "fontSize": 15, "fontWeight": "bold"}, "encoding": {"x": {"datum": 5, "type": "quantitative"}, "y": {"datum": "hdr", "type": "nominal", "axis": null}}},
        {"data": {"name": "pint"}, "transform": [{"filter": "datum.trait === 'FH'"}], "mark": {"type": "text", "align": "left", "baseline": "middle", "dx": 10, "fontSize": 15}, "encoding": {"x": {"datum": 5, "type": "quantitative"}, "y": {"datum": "pint", "type": "nominal", "axis": null}, "text": {"field": "text"}}},
        {"data": {"values": [{}]}, "mark": {"type": "text", "text": "p", "align": "left", "baseline": "middle", "dx": 1, "fontSize": 15, "fontStyle": "italic"}, "encoding": {"x": {"datum": 5, "type": "quantitative"}, "y": {"datum": "pint", "type": "nominal", "axis": null}}},
        {"data": {"values": [{}]}, "mark": {"type": "text", "text": "(b)", "align": "left", "baseline": "middle", "dx": -56, "dy": 5, "fontSize": 26}, "encoding": {"x": {"datum": 0.2, "type": "quantitative"}, "y": {"datum": "title", "type": "nominal", "axis": null}}}
      ]
    },
    {
      "width": 292, "height": 470,
      "layer": [
        {"data": {"values": [{}]}, "mark": {"type": "text", "text": "Genetic Score", "align": "center", "baseline": "middle", "dx": 3, "fontSize": 15}, "encoding": {"x": {"datum": 1, "type": "quantitative"}, "y": {"datum": "title", "type": "nominal", "axis": null}}},
        {"data": {"values": [{}]}, "mark": {"type": "rule", "color": "#222", "strokeWidth": 1.5, "yOffset": 29, "y2Offset": 35}, "encoding": {"x": {"datum": 1, "type": "quantitative"}, "y": {"datum": "hdr", "type": "nominal", "axis": null}, "y2": {"datum": "pint"}}},
        {
          "data": {"name": "forest"},
          "transform": [{"filter": "datum.trait === 'GS'"}],
          "encoding": {"y": {"field": "row", "type": "nominal", "scale": {"type": "point", "domain": ["t0", "title", "hdr", "North America", "Western Europe", "Eastern Europe", "Sweden", "Stockholm-1", "CAPS", "pint"], "padding": 0.739, "align": 0.472}, "axis": null}},
          "layer": [
            {"mark": {"type": "rule", "color": "#222", "strokeWidth": 1.5}, "encoding": {"x": {"field": "lo", "type": "quantitative", "scale": {"type": "log", "domain": [0.2, 5], "range": [-75, 292], "nice": false}, "axis": {"values": [0.2, 1, 5], "format": ".1f", "title": "OR", "titleFontSize": 19, "titleFontWeight": "bold", "titlePadding": 12, "titleX": 109, "labelFontSize": 16, "labelColor": "#222", "tickSize": -6, "labelPadding": 17, "domainWidth": 1.5, "tickWidth": 1.5}}, "x2": {"field": "hi"}}},
            {"mark": {"type": "tick", "orient": "vertical", "size": 12, "thickness": 1.5, "color": "#222"}, "encoding": {"x": {"field": "lo", "type": "quantitative"}}},
            {"mark": {"type": "tick", "orient": "vertical", "size": 12, "thickness": 1.5, "color": "#222"}, "encoding": {"x": {"field": "hi", "type": "quantitative"}}},
            {"mark": {"type": "point", "shape": "diamond", "filled": true, "size": 30, "color": "#c0561f", "opacity": 1}, "encoding": {"x": {"field": "or", "type": "quantitative"}}},
            {"mark": {"type": "text", "align": "left", "baseline": "middle", "dx": -8, "fontSize": 15, "fontWeight": "bold"}, "encoding": {"x": {"datum": 5, "type": "quantitative"}, "text": {"field": "ci"}}}
          ]
        },
        {"data": {"values": [{}]}, "mark": {"type": "text", "text": "OR (95% CI)", "align": "center", "baseline": "middle", "dx": 40, "fontSize": 15, "fontWeight": "bold"}, "encoding": {"x": {"datum": 5, "type": "quantitative"}, "y": {"datum": "hdr", "type": "nominal", "axis": null}}},
        {"data": {"name": "pint"}, "transform": [{"filter": "datum.trait === 'GS'"}], "mark": {"type": "text", "align": "left", "baseline": "middle", "dx": -26, "fontSize": 15}, "encoding": {"x": {"datum": 5, "type": "quantitative"}, "y": {"datum": "pint", "type": "nominal", "axis": null}, "text": {"field": "text"}}},
        {"data": {"values": [{}]}, "mark": {"type": "text", "text": "p", "align": "left", "baseline": "middle", "dx": -35, "fontSize": 15, "fontStyle": "italic"}, "encoding": {"x": {"datum": 5, "type": "quantitative"}, "y": {"datum": "pint", "type": "nominal", "axis": null}}}
      ]
    }
  ]
}
